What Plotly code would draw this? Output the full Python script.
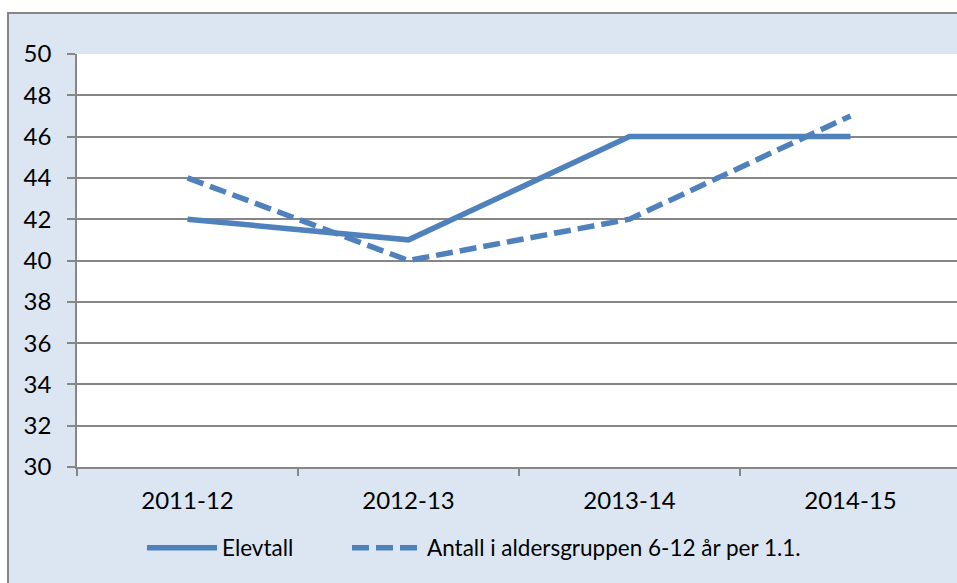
import plotly.graph_objects as go

categories = ["2011-12", "2012-13", "2013-14", "2014-15"]
elevtall = [42, 41, 46, 46]
antall = [44, 40, 42, 47]
series_names = ["Elevtall", "Antall i aldersgruppen 6-12 år per 1.1."]

W, H = 957, 583
L, R, T, B = 77, 0, 54, 583 - 467
pw, ph = W - L - R, H - T - B

def px(x):
    return (x - L) / pw

def py(y):
    return (H - B - y) / ph

color = "#4f81bd"
fig = go.Figure()
fig.add_trace(go.Scatter(x=categories, y=elevtall, mode="lines", name=series_names[0],
                         line=dict(color=color, width=5.5), legend="legend"))
fig.add_trace(go.Scatter(x=categories, y=antall, mode="lines", name=series_names[1],
                         line=dict(color=color, width=5.5, dash="17px,7px"), legend="legend2"))

font = "Lato, 'Open Sans', sans-serif"
leg_common = dict(orientation="h", xanchor="left", y=py(548), yanchor="middle",
                  bgcolor="rgba(0,0,0,0)", font=dict(size=22.5), itemwidth=70)
fig.update_layout(
    width=W, height=H,
    margin=dict(l=L, r=R, t=T, b=B, pad=0, autoexpand=False),
    paper_bgcolor="white",
    plot_bgcolor="white",
    font=dict(family=font, size=23, color="#000000"),
    showlegend=True,
    legend=dict(x=px(142), **leg_common),
    legend2=dict(x=px(347), **leg_common),
    shapes=[
        dict(type="rect", xref="paper", yref="paper", x0=px(8), x1=px(W + 10), y0=py(H + 10), y1=py(13),
             fillcolor="#dce6f2", line=dict(color="#868686", width=2), layer="below"),
        dict(type="rect", xref="paper", yref="paper", x0=0, x1=px(W + 10), y0=0, y1=1,
             fillcolor="white", line=dict(width=0), layer="below"),
    ],
)
span = pw / 221.0
fig.update_xaxes(type="category", range=[-0.5, -0.5 + span], tickson="boundaries",
                 ticks="outside", ticklen=7, tickcolor="#868686", tickwidth=1.5,
                 showline=True, linecolor="#868686", linewidth=1.5, showgrid=False,
                 ticklabelstandoff=11, zeroline=False, tickfont=dict(size=24),
                 automargin=False)
fig.update_yaxes(range=[30, 50], dtick=2, tick0=30, ticks="outside", ticklen=8,
                 tickcolor="#868686", tickwidth=1.5, showline=True, linecolor="#868686",
                 linewidth=1.5, showgrid=True, gridcolor="#868686", gridwidth=1.5,
                 zeroline=False, ticklabelstandoff=11, tickfont=dict(size=24),
                 automargin=False)

fig.write_html(
    "out.html",
    config={"displayModeBar": False},
    post_script=(
        "document.body.style.margin='0';"
        "document.body.style.overflow='hidden';"
        "document.documentElement.style.overflow='hidden';"
        "var d=document.getElementById('{plot_id}');"
        "d.style.position='fixed';d.style.left='0';d.style.top='0';"
    ),
)
